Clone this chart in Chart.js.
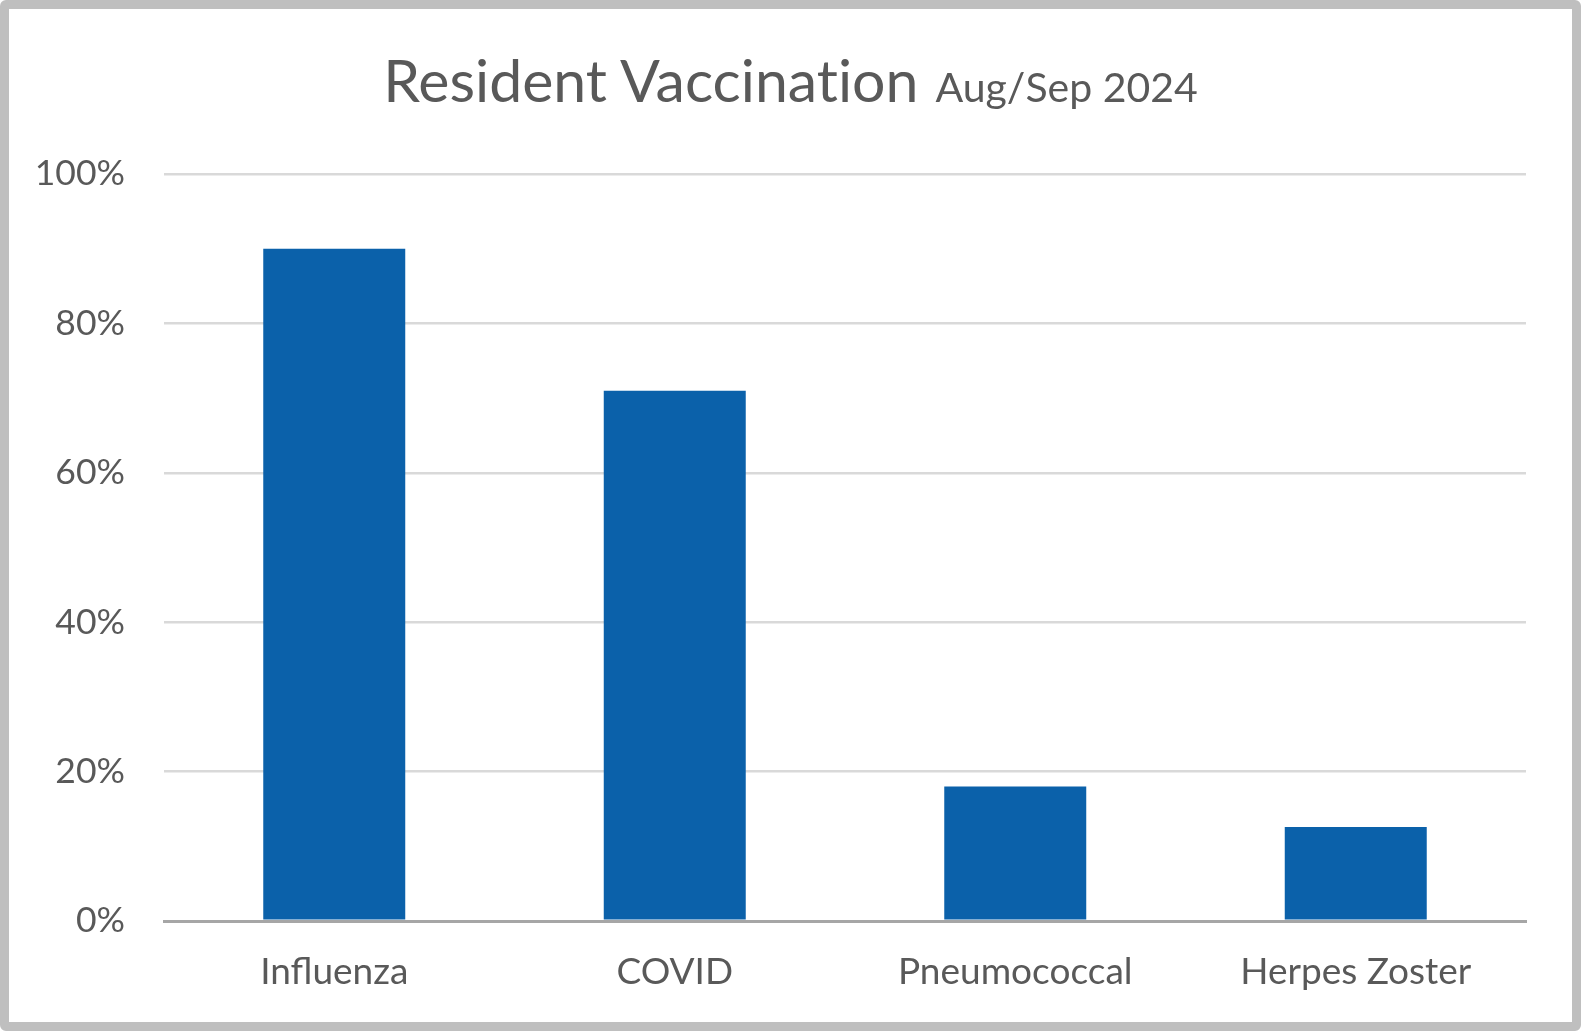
<!DOCTYPE html>
<html>
<head>
<meta charset="utf-8">
<script src="https://cdn.jsdelivr.net/npm/chart.js"></script>
<style>
  html, body { margin: 0; padding: 0; background: #fff; }
  #frame { position: relative; width: 1581px; height: 1031px; overflow: hidden; }
  #chartBox { position: absolute; left: 0; top: 0; width: 1581px; height: 1031px; }
  #border {
    position: absolute; left: 0; top: 0; right: 0; bottom: 0;
    border: 9px solid #bfbfbf; border-radius: 6px; pointer-events: none;
  }
  #title {
    position: absolute; left: 0; right: 0; top: 50px;
    display: flex; justify-content: center; align-items: baseline;
    font-family: Lato, sans-serif; color: #595959; white-space: nowrap;
    font-variant-ligatures: none; font-feature-settings: "liga" 0;
  }
  #title .main { font-size: 59px; line-height: 1; }
  #title .sub { font-size: 41px; line-height: 1; margin-left: 17px; }
</style>
</head>
<body>
<div id="frame">
  <div id="chartBox"><canvas id="chart"></canvas></div>
  <div id="title"><span class="main">Resident Vaccination</span><span class="sub">Aug/Sep 2024</span></div>
  <div id="border"></div>
</div>
<script>
const categories = ["Influenza", "COVID", "Pneumococcal", "Herpes Zoster"];
const coverage = [90, 71, 18, 12.6]; // percent of residents
const yMax = 100;
const yStep = 20;

const textColor = "#595959";
const barColor = "#0b61aa";

const ctx = document.getElementById("chart").getContext("2d");

new Chart(ctx, {
  type: "bar",
  data: {
    labels: categories,
    datasets: [
      {
        label: "Resident Vaccination",
        data: coverage,
        backgroundColor: barColor,
        borderWidth: 0,
        categoryPercentage: 1,
        barPercentage: 0.417,
      },
    ],
  },
  options: {
    responsive: true,
    maintainAspectRatio: false,
    animation: false,
    layout: {
      padding: { left: 0, right: 55, top: 174, bottom: 0 },
    },
    plugins: {
      legend: { display: false },
      title: { display: false },
      tooltip: { enabled: false },
    },
    scales: {
      x: {
        grid: { display: false, drawTicks: false },
        border: { display: true, color: "#a6a6a6", width: 3 },
        ticks: {
          color: textColor,
          padding: 29,
          font: { family: "Lato", size: 37 },
          maxRotation: 0,
        },
        afterFit: (scale) => {
          scale.height = 110;
        },
      },
      y: {
        min: 0,
        max: yMax,
        grid: {
          drawTicks: false,
          color: (c) => (c.tick && c.tick.value === 0 ? "#a6a6a6" : "#d9d9d9"),
          lineWidth: (c) => (c.tick && c.tick.value === 0 ? 3 : 2.5),
        },
        border: { display: false },
        ticks: {
          stepSize: yStep,
          color: textColor,
          padding: 39,
          font: { family: "Lato", size: 35.5 },
          callback: (v) => v + "%",
        },
        afterFit: (scale) => {
          scale.width = 164;
        },
      },
    },
  },
});
</script>
</body>
</html>
